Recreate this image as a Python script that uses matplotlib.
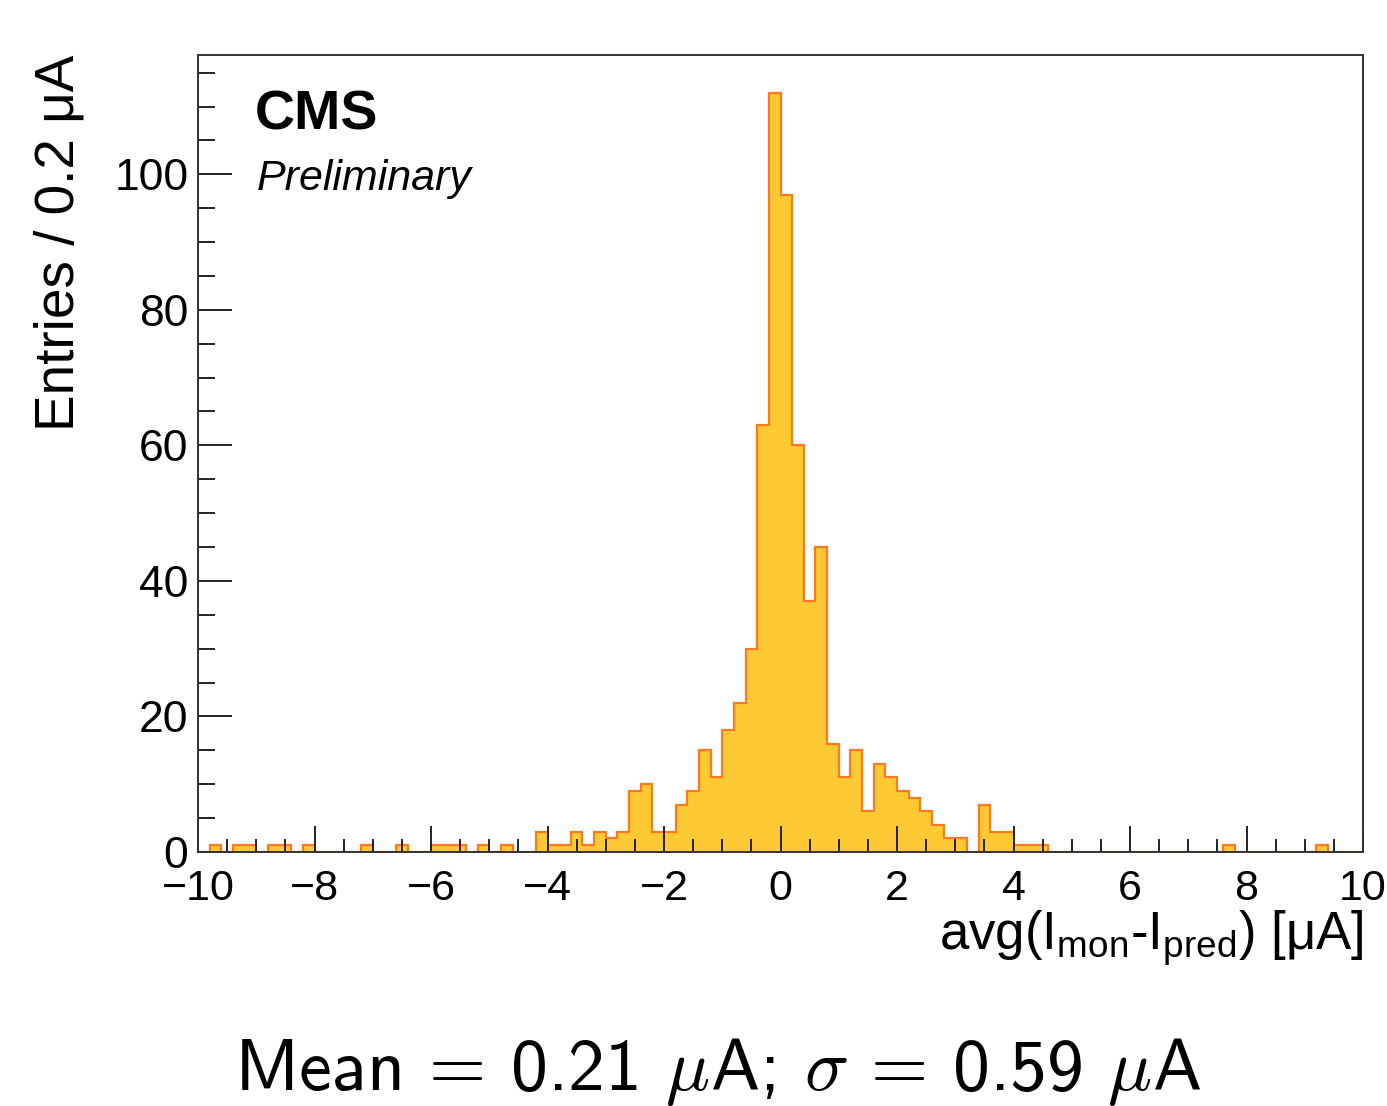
import matplotlib
matplotlib.use("Agg")
import matplotlib.pyplot as plt
import numpy as np
from matplotlib.ticker import MultipleLocator

# ---- data ----
bin_edges = np.linspace(-10, 10, 101)
counts = [
    0, 1, 0, 1, 1, 0, 1, 1, 0, 1,      # -10.0 .. -8.2
    0, 0, 0, 0, 1, 0, 0, 1, 0, 0,      # -8.0 .. -6.2
    1, 1, 1, 0, 1, 0, 1, 0, 0, 3,      # -6.0 .. -4.2
    1, 1, 3, 1, 3, 2, 3, 9, 10, 3,     # -4.0 .. -2.2
    3, 7, 9, 15, 11, 18, 22, 30, 63, 112,  # -2.0 .. -0.2
    97, 60, 37, 45, 16, 11, 15, 6, 13, 11,  # 0.0 .. 1.8
    9, 8, 6, 4, 2, 2, 0, 7, 3, 3,      # 2.0 .. 3.8
    1, 1, 1, 0, 0, 0, 0, 0, 0, 0,      # 4.0 .. 5.8
    0, 0, 0, 0, 0, 0, 0, 0, 1, 0,      # 6.0 .. 7.8
    0, 0, 0, 0, 0, 0, 1, 0, 0, 0,      # 8.0 .. 9.8
]
x_major_ticks = [-10, -8, -6, -4, -2, 0, 2, 4, 6, 8, 10]
y_major_ticks = [0, 20, 40, 60, 80, 100]

plt.rcParams['font.family'] = ['Liberation Sans', 'DejaVu Sans']
plt.rcParams['axes.unicode_minus'] = True

W, H = 1387, 1106
fig = plt.figure(figsize=(W / 100, H / 100), dpi=100)
L, R, T, B = 198, 1363, 55, 852
ax = fig.add_axes([L / W, 1 - B / H, (R - L) / W, (B - T) / H])

fill_col = '#ffc933'
edge_col = '#ff7a1f'
ax.stairs(counts, bin_edges, fill=True, color=fill_col, zorder=1)
ax.stairs(counts, bin_edges, fill=False, baseline=0, color=edge_col, linewidth=1.6, zorder=1.5)

ax.set_xlim(-10, 10)
ax.set_ylim(0, 117.6)

ax.set_xticks(x_major_ticks)
ax.set_xticklabels([f"{v:d}".replace('-', '\u2212') for v in x_major_ticks])
ax.set_yticks(y_major_ticks)
ax.set_yticklabels([str(v) for v in y_major_ticks])
ax.xaxis.set_minor_locator(MultipleLocator(0.5))
ax.yaxis.set_minor_locator(MultipleLocator(5))

ax.tick_params(axis='x', which='major', direction='in', length=18.7, width=1.4,
               labelsize=31, pad=12, top=False, color='#222222')
ax.tick_params(axis='x', which='minor', direction='in', length=9.4, width=1.4,
               top=False, color='#222222')
ax.tick_params(axis='y', which='major', direction='in', length=24.5, width=1.4,
               labelsize=32, pad=7, right=False, color='#222222')
ax.tick_params(axis='y', which='minor', direction='in', length=12.2, width=1.4,
               right=False, color='#222222')
for s in ax.spines.values():
    s.set_linewidth(1.4)
    s.set_color('#333333')

# axis titles
fig.text(60 / W, 1 - 55 / H, "Entries / 0.2 \u03bcA", rotation=90, ha='center', va='top',
         fontsize=39.5)
fig.text(R / W, 1 - 950 / H,
         r"avg(I$_{\mathregular{mon}}$-I$_{\mathregular{pred}}$) [$\mathregular{\mu}$A]",
         ha='right', va='baseline', fontsize=38)

# CMS labels
fig.text(255 / W, 1 - 130 / H, "CMS", fontweight='bold', fontsize=40,
         ha='left', va='baseline')
fig.text(257 / W, 1 - 190 / H, "Preliminary", fontstyle='italic', fontsize=31,
         ha='left', va='baseline')

# bottom caption
fig.text(718 / W, 1 - 1090 / H,
         r"Mean = 0.21 $\mu$A; $\sigma$ = 0.59 $\mu$A",
         ha='center', va='baseline', fontsize=53, family='cmss10', math_fontfamily='cm')

fig.savefig("out.png", dpi=100)
